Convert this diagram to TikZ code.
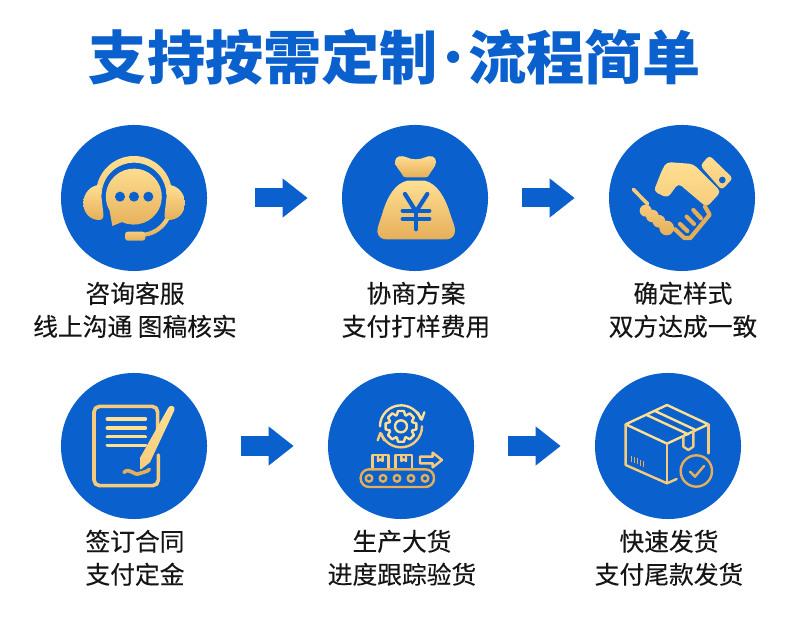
\documentclass[tikz,border=0pt]{standalone}
\usepackage{fontspec}
\setmainfont{Noto Sans CJK SC}
\newfontfamily\labelfont[FakeBold=0.25]{Noto Sans CJK SC}
\usepackage{tikz}
\usetikzlibrary{arrows.meta,positioning}
\definecolor{flowblue}{HTML}{0A60CC}
\definecolor{goldTop}{HTML}{FFDF92}
\definecolor{goldMid}{HTML}{F6CC7C}
\definecolor{goldBot}{HTML}{E5AF5A}
\definecolor{inkgray}{HTML}{151515}

\begin{document}
\begin{tikzpicture}[
    x=0.025cm, y=-0.025cm,
    stepdot/.style={circle, fill=flowblue, minimum size=3.65cm, inner sep=0pt},
    steptext/.style={align=center, inner sep=0pt, text=inkgray, font=\labelfont\fontsize{17.6}{23.5}\selectfont, below=0.255cm of #1, xshift=0.025cm},
    flowarrow/.style={line width=0.475cm, draw=flowblue, -{Triangle[length=0.625cm,width=0.935cm,flowblue]}, shorten >=0.85cm, shorten <=0.85cm},
    goldfill/.style={top color=goldTop, bottom color=goldBot},
    goldupper/.style={top color=goldTop, bottom color=goldMid},
    goldlower/.style={top color=goldMid, bottom color=goldBot},
    goldline/.style={draw=#1, line width=1.7pt, line cap=round, line join=round},
    goldbold/.style={draw=#1, line width=2.6pt, line cap=round, line join=round},
    bluebar/.style={draw=flowblue, line width=3pt, line cap=round}
  ]
    \useasboundingbox (0,0) rectangle (790,628);
    \node[inner sep=0pt, text=flowblue, font=\fontsize{41.4}{50}\selectfont\bfseries] (title) at (395,57) {支持按需定制\kern-10pt{\mdseries·}\kern-10pt 流程简单};

    \node[stepdot] (consult) at (134,198) {};
    \node[stepdot] (quote) at (415,198) {};
    \node[stepdot] (sample) at (682,198) {};
    \node[stepdot] (contract) at (134,446) {};
    \node[stepdot] (produce) at (401,446) {};
    \node[stepdot] (deliver) at (668,446) {};

    \node[steptext=consult] (consultText) {咨询客服\\线上沟通 图稿核实};
    \node[steptext=quote] (quoteText) {协商方案\\支付打样费用};
    \node[steptext=sample] (sampleText) {确定样式\\双方达成一致};
    \node[steptext=contract] (contractText) {签订合同\\支付定金};
    \node[steptext=produce] (produceText) {生产大货\\进度跟踪验货};
    \node[steptext=deliver] (deliverText) {快速发货\\支付尾款发货};

    \draw[flowarrow, shorten <=1.2cm] (consult) -- (quote);
    \draw[flowarrow] (quote) -- (sample);
    \draw[flowarrow] (contract) -- (produce);
    \draw[flowarrow] (produce) -- (deliver);

    \begin{scope}[shift={(50,120)}, scale=1/3]
      \path[goldupper] (138,222) arc[start angle=180, end angle=360, radius=114] -- (349,225) arc[start angle=360, end angle=180, radius=97] -- cycle;
      \path[goldfill] (148,195) .. controls (120,196) and (100,222) .. (100,248) .. controls (100,280) and (120,300) .. (148,300) .. controls (158,300) and (162,292) .. (160,280) -- (152,210) .. controls (152,200) and (152,196) .. (148,195) -- cycle;
      \path[goldfill] (356,195) .. controls (384,196) and (405,222) .. (405,248) .. controls (405,280) and (384,300) .. (356,300) .. controls (346,300) and (342,292) .. (344,280) -- (352,210) .. controls (352,200) and (352,196) .. (356,195) -- cycle;
      \path[goldlower] (345,295) .. controls (335,315) and (310,335) .. (282,338) -- (282,350) .. controls (315,348) and (345,325) .. (358,298) -- cycle;
      \path[goldlower, rounded corners=2pt] (225,335) rectangle (286,362);
      \path[goldfill] (216,306) arc[start angle=115, end angle=-210, radius=84] -- (187,318) -- cycle;
      \foreach \dotx in {210,252,295} {
        \fill[flowblue] (\dotx,230) circle[radius=15];
      }
    \end{scope}

    \begin{scope}[shift={(330,120)}, scale=1/3]
      \path[goldfill] (195,125) .. controls (195,108) and (215,105) .. (230,112) .. controls (245,120) and (270,120) .. (285,112) .. controls (300,105) and (318,108) .. (318,125) .. controls (318,140) and (305,150) .. (295,168) .. controls (293,172) and (290,172) .. (285,172) -- (228,172) .. controls (222,172) and (220,170) .. (218,166) .. controls (210,150) and (195,140) .. (195,125) -- cycle;
      \path[goldfill] (232,182) -- (284,182) .. controls (320,190) and (345,230) .. (360,280) .. controls (368,305) and (376,320) .. (375,335) .. controls (373,350) and (362,358) .. (350,358) -- (168,358) .. controls (155,358) and (144,350) .. (142,335) .. controls (142,320) and (150,305) .. (157,280) .. controls (172,230) and (195,190) .. (232,182) -- cycle;
      \draw[bluebar] (225,222) -- (258,275) -- (292,222);
      \draw[bluebar] (258,275) -- (258,328);
      \draw[bluebar] (218,272) -- (298,272);
      \draw[bluebar] (218,297) -- (298,297);
    \end{scope}

    \begin{scope}[shift={(625,150)}, scale=1/3]
      \path[goldupper, rounded corners=2.5pt] (253,16) -- (324,85) -- (290,120) -- (226,47) -- cycle;
      \fill[flowblue] (292,90) circle[radius=10];
      \path[goldupper, rounded corners=3pt] (125,36) -- (205,42) -- (288,125) -- (245,172) -- (160,100) -- (128,144) -- (86,124) -- (112,58) -- cycle;
      \draw[goldbold=goldMid] (25,118) -- (68,162);
      \draw[goldbold=goldBot, line width=3pt] (150,238) -- (178,264) -- (196,264) -- (254,194) -- (240,170);
      \draw[goldbold=goldBot, line width=3pt] (205,180) -- (228,205);
      \draw[goldbold=goldBot, line width=3pt] (185,200) -- (207,222);
      \draw[goldbold=goldBot, line width=3pt] (165,222) -- (187,243);
      \path[goldlower] (62,182) circle[radius=18] (82,198) circle[radius=19] (102,214) circle[radius=19] (125,234) circle[radius=22];
    \end{scope}

    \begin{scope}[shift={(50,365)}, scale=1/3]
      \draw[goldbold=goldMid, rounded corners=4pt] (323,200) -- (323,124) -- (132,124) -- (132,362) -- (325,362) -- (325,270);
      \foreach \barcolor/\bary in {goldTop/162,goldTop/189,goldTop/215,goldTop/241} {
        \draw[goldbold=\barcolor] (172,\bary) -- (286,\bary);
      }
      \path[goldupper] (355,128) .. controls (360,118) and (378,122) .. (373,136) -- (300,292) -- (272,314) -- (272,275) -- cycle;
      \draw[goldbold=goldBot] (222,322) .. controls (240,305) and (250,335) .. (270,325) .. controls (280,320) and (290,322) .. (298,313);
    \end{scope}

    \begin{scope}[shift={(320,365)}, scale=1/3]
      \begin{scope}[shift={(243,184)}]
        \draw[goldline=goldTop] (-20:36) \foreach \gearangle in {0,45,...,315} { -- (\gearangle-20:36) -- (\gearangle-11:47) -- (\gearangle+11:47) -- (\gearangle+20:36) } -- cycle;
        \draw[goldline=goldTop] (0,0) circle[radius=18];
        \draw[goldline=goldTop] (-63,0) arc[start angle=180, end angle=340, radius=63];
        \draw[goldline=goldMid] (63,0) arc[start angle=0, end angle=160, radius=63];
        \draw[goldline=goldTop] (50,-42) -- (62,-20) -- (70,-42);
        \draw[goldline=goldMid] (-50,42) -- (-62,20) -- (-70,42);
      \end{scope}
      \draw[goldline=goldMid] (157,313) -- (157,270) -- (205,270) -- (205,313);
      \draw[goldline=goldMid] (227,313) -- (227,270) -- (276,270) -- (276,313);
      \draw[goldline=goldMid] (174,270) -- (174,288) -- (181,283) -- (188,288) -- (188,270);
      \draw[goldline=goldMid] (244,270) -- (244,288) -- (251,283) -- (258,288) -- (258,270);
      \draw[goldline=goldMid] (300,275) -- (338,275) -- (338,263) -- (366,285) -- (338,307) -- (338,295) -- (300,295) -- cycle;
      \draw[goldline=goldBot, rounded corners=6pt] (122,313) rectangle (342,366);
      \foreach \wheelx in {147,189,231,273,315} {
        \draw[goldline=goldBot] (\wheelx,340) circle[radius=10];
      }
    \end{scope}

    \begin{scope}[shift={(585,365)}, scale=1/3]
      \draw[goldline=goldTop] (246,120) -- (370,178) -- (246,236) -- (122,178) -- cycle;
      \draw[goldline=goldMid] (122,178) -- (122,300) -- (246,355) -- (275,342);
      \draw[goldline=goldMid] (246,236) -- (246,355);
      \draw[goldline=goldMid] (370,178) -- (370,265);
      \draw[goldline=goldTop] (185,150) -- (310,208);
      \draw[goldline=goldTop] (210,138) -- (330,194);
      \draw[goldline=goldMid] (295,212) -- (295,245) -- (310,255) -- (325,245) -- (325,198);
      \foreach \tickx/\ticky in {140/272,149/276,158/280,167/284,176/288} {
        \draw[goldline=goldBot, line width=1.1pt, line cap=butt] (\tickx,\ticky) -- (\tickx,\ticky+18);
      }
      \draw[goldline=goldBot] (334,318) circle[radius=47];
      \draw[goldline=goldBot] (315,320) -- (330,335) -- (357,303);
    \end{scope}
  \end{tikzpicture}
\end{document}
